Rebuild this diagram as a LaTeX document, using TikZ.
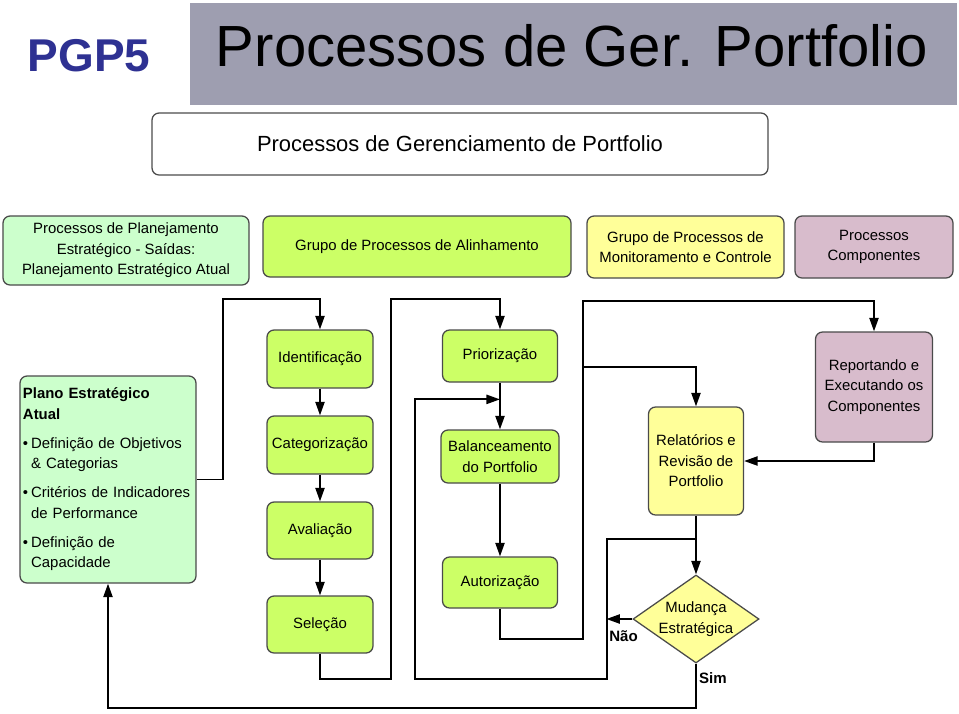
\documentclass[tikz,border=0pt]{standalone}
\usepackage{fontspec}
\setmainfont{Liberation Sans}
\usepackage{tikz}
\usetikzlibrary{arrows.meta,positioning,shapes.geometric}
\definecolor{pgpblue}{HTML}{2E3192}
\definecolor{bannergray}{HTML}{9E9EB0}
\definecolor{mintgreen}{HTML}{CCFFCC}
\definecolor{limegreen}{HTML}{CCFF66}
\definecolor{paleyellow}{HTML}{FFFF99}
\definecolor{mauve}{HTML}{D8BCCC}
\definecolor{edgegray}{HTML}{4A4A4A}
\newcommand{\pbul}{\makebox[0.55em][l]{\textbullet}}
\newcommand{\pind}{\hspace*{0.55em}}

\begin{document}
\begin{tikzpicture}[
  box/.style={draw=edgegray, line width=0.9pt, rounded corners=5pt, align=center,
              inner sep=2pt, font={\fontsize{10.6pt}{14.6pt}\selectfont}},
  hdr/.style={box, minimum height=1.55cm},
  plan/.style={box, fill=mintgreen},
  alin/.style={box, fill=limegreen},
  monit/.style={box, fill=paleyellow},
  comp/.style={box, fill=mauve},
  proc/.style={alin, minimum width=2.65cm, minimum height=1.45cm},
  proc2/.style={alin, minimum width=2.9cm, minimum height=1.3cm},
  decision/.style={diamond, aspect=1.43, draw=edgegray, line width=0.9pt, fill=paleyellow,
                   minimum width=3.15cm, minimum height=2.2cm, inner sep=0pt,
                   align=center, font={\fontsize{10.6pt}{14.6pt}\selectfont}},
  arrow/.style={-{Triangle[length=3.4mm,width=2.3mm]}, line width=1.3pt},
  tag/.style={font={\fontsize{10.7pt}{13pt}\selectfont\bfseries}},
]
  \useasboundingbox (0,0) rectangle (23.975,-17.825);

  % Title strip.
  \node[font=\fontsize{32.7pt}{36pt}\selectfont\bfseries, text=pgpblue] (pgp) at (2.225,-1.4) {PGP5};
  \node[fill=bannergray, minimum width=19.175cm, minimum height=2.55cm, inner sep=0pt]
    (banner) at (14.3375,-1.35) {};
  \node[font=\fontsize{41.3pt}{45pt}\selectfont] (title) at (14.3,-1.15) {Processos de Ger. Portfolio};
  \node[box, draw=black!70, minimum width=15.4cm, minimum height=1.55cm,
        font=\fontsize{15.6pt}{18pt}\selectfont] (subtitle) at (11.5,-3.6)
    {Processos de Gerenciamento de Portfolio};

  % Legend of process groups.
  \node[plan, minimum width=6.15cm, minimum height=1.725cm] (plan-hdr) at (3.15,-6.2625)
    {Processos de Planejamento\\Estratégico - Saídas:\\Planejamento Estratégico Atual};
  \node[alin, minimum width=7.7cm, minimum height=1.525cm] (align-hdr) at (10.425,-6.1625)
    {Grupo de Processos de Alinhamento};
  \node[monit, hdr, minimum width=4.925cm] (monit-hdr) at (17.1375,-6.175)
    {Grupo de Processos de\\Monitoramento e Controle};
  \node[comp, hdr, minimum width=3.95cm] (comp-hdr) at (21.85,-6.175)
    {Processos\\Componentes};

  % Strategic plan input.
  \node[plan, align=left, text width=4.25cm, minimum width=4.4cm, minimum height=5.175cm]
    (plano) at (2.7,-11.9875)
    {\textbf{Plano Estratégico}\\\textbf{Atual}\\[6pt]
     \pbul Definição de Objetivos\\\pind\& Categorias\\[6pt]
     \pbul Critérios de Indicadores\\\pind de Performance\\[6pt]
     \pbul Definição de\\\pind Capacidade};

  % Alignment: first column.
  \node[proc] (ident) at (8.0,-8.975) {Identificação};
  \node[proc] (categ) at (8.0,-11.125) {Categorização};
  \node[proc, minimum height=1.425cm] (aval) at (8.0,-13.2625) {Avaliação};
  \node[proc, minimum height=1.425cm] (selec) at (8.0,-15.6125) {Seleção};

  % Alignment: second column.
  \node[proc2, minimum width=2.875cm] (prior) at (12.5,-8.9) {Priorização};
  \node[proc2, minimum width=2.95cm, minimum height=1.325cm] (balan) at (12.5,-11.4125)
    {Balanceamento\\do Portfolio};
  \node[proc2, minimum width=2.875cm, minimum height=1.275cm] (autor) at (12.5,-14.5625)
    {Autorização};

  % Monitoring and components.
  \node[monit, minimum width=2.375cm, minimum height=2.7cm] (relat) at (17.4,-11.525)
    {Relatórios e\\Revisão de\\Portfolio};
  \node[comp, minimum width=2.925cm, minimum height=2.75cm] (report) at (21.85,-9.675)
    {Reportando e\\Executando os\\Componentes};
  \node[decision] (mudanca) at (17.4,-15.475) {Mudança\\Estratégica};

  % Connectors.
  \draw[arrow] (plano.east) -- ++(0.65,0) |- ([yshift=7.5mm]ident.north) -- (ident.north);
  \draw[arrow] (ident) -- (categ);
  \draw[arrow] (categ) -- (aval);
  \draw[arrow] (aval) -- (selec);
  \draw[arrow] (selec.south) -- ++(0,-0.625) -| ([xshift=-2.725cm,yshift=7.5mm]prior.north)
    -- ([yshift=7.5mm]prior.north) -- (prior.north);
  \draw[arrow] (prior) -- (balan);
  \draw[arrow] (balan) -- (autor);
  \draw[arrow] (autor.south) -- ++(0,-0.75) -| ([xshift=-7.275cm,yshift=7.5mm]report.north)
    -- ([yshift=7.5mm]report.north) -- (report.north);
  \draw[arrow] ([xshift=-2.825cm,yshift=9.75mm]relat.north) -| (relat.north);
  \draw[arrow] (report.south) |- (relat.east);
  \draw[arrow] (relat) -- (mudanca);
  \draw[arrow] ([yshift=-5.75mm]relat.south) -- ++(-2.225,0) -- ++(0,-3.5)
    -| ([xshift=-2.125cm,yshift=7.5mm]balan.north) -- ([yshift=7.5mm]balan.north);
  \draw[arrow] (mudanca.west) -- ++(-0.65,0);
  \draw[arrow] (mudanca.south) -- ([yshift=-22.25mm]mudanca.center) -| (plano.south);
  \node[tag] (nao) at (15.5875,-15.9125) {Não};
  \node[tag] (sim) at (17.825,-16.9625) {Sim};
\end{tikzpicture}
\end{document}
